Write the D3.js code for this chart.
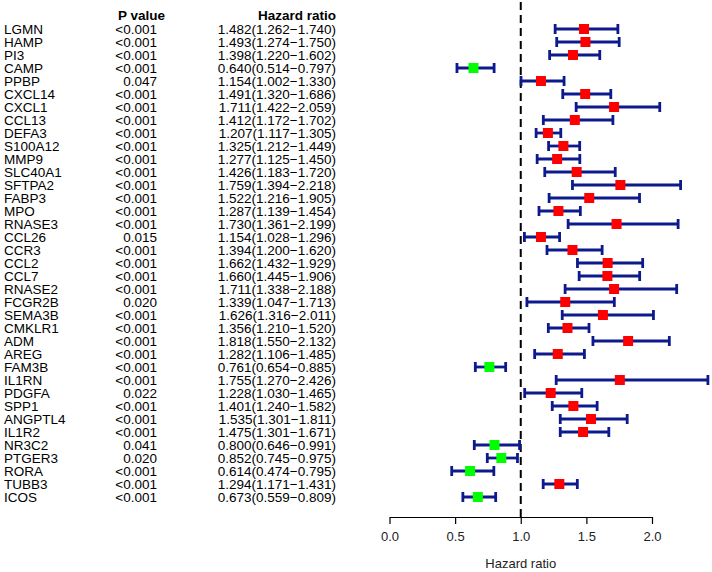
<!DOCTYPE html>
<html><head><meta charset="utf-8">
<script src="https://cdn.jsdelivr.net/npm/d3@7"></script>
<style>body{margin:0;background:#fff}svg{display:block}text{font-family:"Liberation Sans",Arial,sans-serif}</style>
</head><body><svg id="c" width="712" height="572"></svg>
<script>
const genes = ["LGMN","HAMP","PI3","CAMP","PPBP","CXCL14","CXCL1","CCL13","DEFA3","S100A12","MMP9","SLC40A1","SFTPA2","FABP3","MPO","RNASE3","CCL26","CCR3","CCL2","CCL7","RNASE2","FCGR2B","SEMA3B","CMKLR1","ADM","AREG","FAM3B","IL1RN","PDGFA","SPP1","ANGPTL4","IL1R2","NR3C2","PTGER3","RORA","TUBB3","ICOS"];
const pvals = ["<0.001","<0.001","<0.001","<0.001","0.047","<0.001","<0.001","<0.001","<0.001","<0.001","<0.001","<0.001","<0.001","<0.001","<0.001","<0.001","0.015","<0.001","<0.001","<0.001","<0.001","0.020","<0.001","<0.001","<0.001","<0.001","<0.001","<0.001","0.022","<0.001","<0.001","<0.001","0.041","0.020","<0.001","<0.001","<0.001"];
const hr =    [1.482,1.493,1.398,0.640,1.154,1.491,1.711,1.412,1.207,1.325,1.277,1.426,1.759,1.522,1.287,1.730,1.154,1.394,1.662,1.660,1.711,1.339,1.626,1.356,1.818,1.282,0.761,1.755,1.228,1.401,1.535,1.475,0.800,0.852,0.614,1.294,0.673];
const lower = [1.262,1.274,1.220,0.514,1.002,1.320,1.422,1.172,1.117,1.212,1.125,1.183,1.394,1.216,1.139,1.361,1.028,1.200,1.432,1.445,1.338,1.047,1.316,1.210,1.550,1.106,0.654,1.270,1.030,1.240,1.301,1.301,0.646,0.745,0.474,1.171,0.559];
const upper = [1.740,1.750,1.602,0.797,1.330,1.686,2.059,1.702,1.305,1.449,1.450,1.720,2.218,1.905,1.454,2.199,1.296,1.620,1.929,1.906,2.188,1.713,2.011,1.520,2.132,1.485,0.885,2.426,1.465,1.582,1.811,1.671,0.991,0.975,0.795,1.431,0.809];
const xTicks = [0,0.5,1,1.5,2];

const svg = d3.select("#c");
const x = d3.scaleLinear().domain([0,2]).range([389.5,652]);
const y = d3.scaleLinear().domain([0,genes.length-1]).range([29,497]);
const fmt = d3.format(".3f");
const fs = 13.5;

// headers
svg.append("text").attr("x",165).attr("y",15).attr("dy","0.35em").attr("text-anchor","end")
  .attr("font-weight","bold").attr("font-size",fs).text("P value");
svg.append("text").attr("x",336).attr("y",15).attr("dy","0.35em").attr("text-anchor","end")
  .attr("font-weight","bold").attr("font-size",fs).text("Hazard ratio");

const rows = svg.append("g").selectAll("g").data(genes).join("g")
  .attr("transform",(d,i)=>`translate(0,${y(i)})`);
rows.append("text").attr("x",4).attr("dy","0.35em").attr("font-size",fs).text(d=>d);
rows.append("text").attr("x",157).attr("dy","0.35em").attr("text-anchor","end").attr("font-size",fs).text((d,i)=>pvals[i]);
rows.append("text").attr("x",336).attr("dy","0.35em").attr("text-anchor","end").attr("font-size",fs)
  .text((d,i)=>`${fmt(hr[i])}(${fmt(lower[i])}\u2212${fmt(upper[i])})`);

// reference line
svg.append("line").attr("x1",x(1)).attr("x2",x(1)).attr("y1",2).attr("y2",517)
  .attr("stroke","#000").attr("stroke-width",2).attr("stroke-dasharray","8,5");

// CIs
const navy = "#0d1a8c";
const ci = svg.append("g").selectAll("g").data(genes).join("g")
  .attr("transform",(d,i)=>`translate(0,${y(i)})`);
ci.append("line").attr("x1",(d,i)=>x(lower[i])).attr("x2",(d,i)=>x(upper[i]))
  .attr("stroke",navy).attr("stroke-width",2.8);
ci.append("line").attr("x1",(d,i)=>x(lower[i])).attr("x2",(d,i)=>x(lower[i])).attr("y1",-5).attr("y2",5)
  .attr("stroke",navy).attr("stroke-width",2.8);
ci.append("line").attr("x1",(d,i)=>x(upper[i])).attr("x2",(d,i)=>x(upper[i])).attr("y1",-5).attr("y2",5)
  .attr("stroke",navy).attr("stroke-width",2.8);
ci.append("rect").attr("x",(d,i)=>x(hr[i])-5).attr("y",-5).attr("width",10).attr("height",10)
  .attr("fill",(d,i)=>hr[i]>1?"#ff0000":"#00ff00");

// axis
const ax = svg.append("g").attr("transform","translate(0,517)")
  .call(d3.axisBottom(x).tickValues(xTicks).tickFormat(d3.format(".1f")).tickSize(7).tickSizeOuter(0));
ax.select(".domain").attr("stroke","#000").attr("stroke-width",1.2);
ax.selectAll(".tick line").attr("stroke","#000").attr("stroke-width",1.2);
ax.selectAll(".tick text").attr("font-size",13).attr("font-family","'Liberation Sans',Arial,sans-serif").attr("fill","#222").attr("dy","1.1em");
svg.append("text").attr("x",x(1)).attr("y",563).attr("dy","0.35em").attr("text-anchor","middle")
  .attr("font-size",13).attr("fill","#222").text("Hazard ratio");
</script></body></html>
